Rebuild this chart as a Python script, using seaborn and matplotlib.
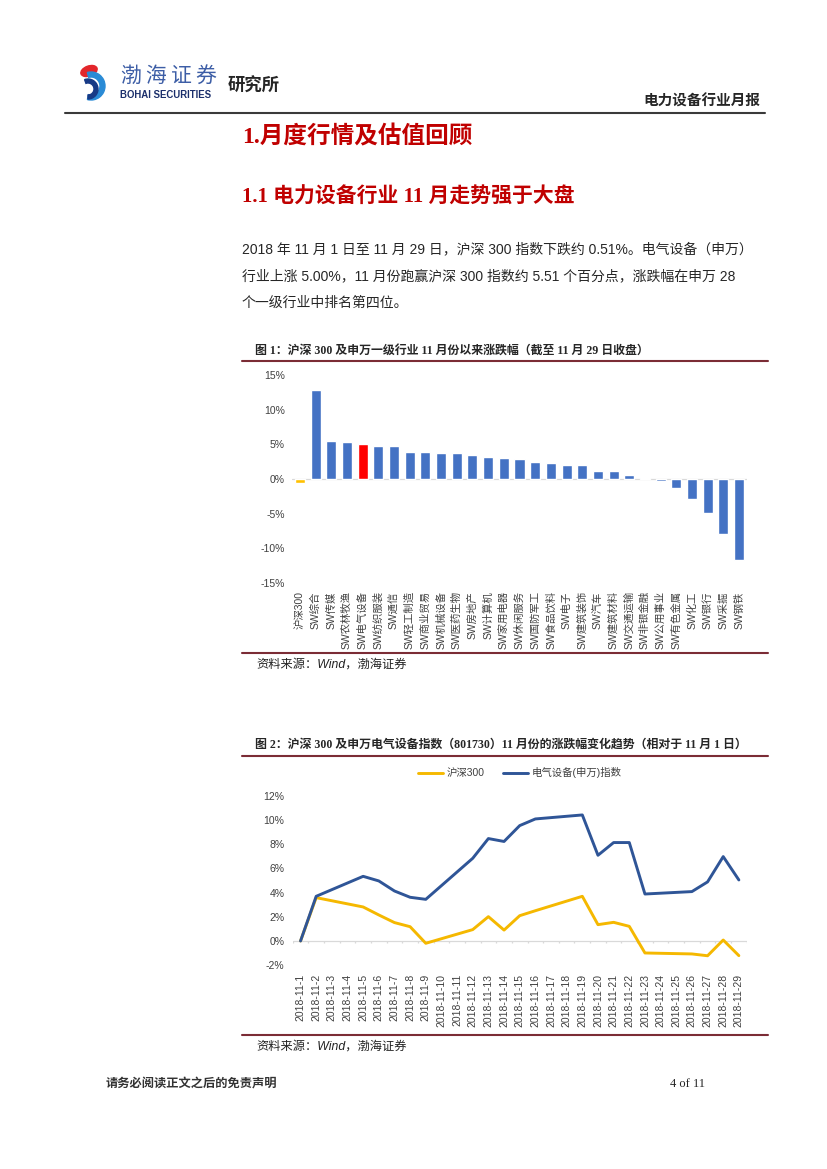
import numpy as np
import pandas as pd
import seaborn as sns
import matplotlib.pyplot as plt
import matplotlib.dates as mdates
from matplotlib.patches import Ellipse, Wedge

# ---- figure 1: 11月涨跌幅 ----
industries = ["沪深300", "SW综合", "SW传媒", "SW农林牧渔", "SW电气设备", "SW纺织服装", "SW通信",
              "SW轻工制造", "SW商业贸易", "SW机械设备", "SW医药生物", "SW房地产", "SW计算机",
              "SW家用电器", "SW休闲服务", "SW国防军工", "SW食品饮料", "SW电子", "SW建筑装饰",
              "SW汽车", "SW建筑材料", "SW交通运输", "SW非银金融", "SW公用事业", "SW有色金属",
              "SW化工", "SW银行", "SW采掘", "SW钢铁"]
change_pct = [-0.51, 12.9, 5.5, 5.3, 5.0, 4.8, 4.75, 3.95, 3.9, 3.8, 3.8, 3.4, 3.2,
              3.1, 2.95, 2.5, 2.35, 2.0, 1.95, 1.1, 1.1, 0.55, 0.08, -0.35, -1.3,
              -2.9, -4.95, -7.95, -11.75]
y1_ticks = [-15, -10, -5, 0, 5, 10, 15]

# ---- figure 2: 涨跌幅变化趋势 ----
trade_dates = ["2018-11-01", "2018-11-02", "2018-11-05", "2018-11-06", "2018-11-07",
               "2018-11-08", "2018-11-09", "2018-11-12", "2018-11-13", "2018-11-14",
               "2018-11-15", "2018-11-16", "2018-11-19", "2018-11-20", "2018-11-21",
               "2018-11-22", "2018-11-23", "2018-11-26", "2018-11-27", "2018-11-28",
               "2018-11-29"]
hs300 = [0, 3.58, 2.81, 2.15, 1.52, 1.18, -0.19, 0.94, 2.01, 0.9, 2.09, 2.5, 3.69,
         1.35, 1.54, 1.21, -0.99, -1.07, -1.22, 0.08, -1.21]
elec = [0, 3.69, 5.34, 4.96, 4.13, 3.61, 3.44, 6.83, 8.46, 8.22, 9.53, 10.08, 10.41,
        7.08, 8.13, 8.13, 3.88, 4.08, 4.88, 6.97, 5.04]
series_names = ["沪深300", "电气设备(申万)指数"]
y2_ticks = [-2, 0, 2, 4, 6, 8, 10, 12]

W, H = 827, 1169
sns.set_style("white")
plt.rcParams['font.family'] = ['Liberation Sans', 'Noto Sans CJK SC', 'DejaVu Sans']
plt.rcParams['axes.unicode_minus'] = False

CJK = ['Liberation Sans', 'Noto Sans CJK SC']
SERIF = ['Liberation Serif', 'Noto Sans CJK SC']
DARKRED = '#7B2C35'
RED = '#C00000'


def box(x0, y0, x1, y1):
    return [x0 / W, 1 - y1 / H, (x1 - x0) / W, (y1 - y0) / H]


fig = plt.figure(figsize=(W / 100, H / 100), dpi=100)
page = fig.add_axes([0, 0, 1, 1])
page.set_xlim(0, W)
page.set_ylim(H, 0)
page.axis('off')

# header / logo
page.add_patch(Ellipse((89, 71), 17, 10, angle=-20, color='#E3262B'))
page.add_patch(Wedge((91, 86), 14, -105, 105, width=5, color='#2A8BD6'))
page.add_patch(Wedge((88, 89), 10, -110, 90, width=4, color='#173A86'))
for i, ch in enumerate("渤海证券"):
    page.text(131 + i * 25, 77, ch, fontsize=15, color='#3D5EA6', family=SERIF,
              ha='center', va='center')
page.text(120, 95, "BOHAI SECURITIES", fontsize=6.9, weight='bold', color='#1B2F6B',
          ha='left', va='center')
page.text(228, 85, "研究所", fontsize=12.5, weight='bold', ha='left', va='center')
page.text(760, 102, "电力设备行业月报", fontsize=10.5, weight='bold', ha='right', va='center')
page.plot([65, 765], [113, 113], color='#3A3A3A', lw=1.5)

# section headings
page.text(242, 137, "1.月度行情及估值回顾", fontsize=17, weight='bold', color=RED,
          family=SERIF, ha='left', va='center')
page.text(242, 198, "1.1 电力设备行业 11 月走势强于大盘", fontsize=15, weight='bold',
          color=RED, family=SERIF, ha='left', va='center')
para = ["2018 年 11 月 1 日至 11 月 29 日，沪深 300 指数下跌约 0.51%。电气设备（申万）",
        "行业上涨 5.00%，11 月份跑赢沪深 300 指数约 5.51 个百分点，涨跌幅在申万 28",
        "个一级行业中排名第四位。"]
for i, line in enumerate(para):
    page.text(242, 249 + i * 27, line, fontsize=10, family=CJK, ha='left', va='center')

# figure captions and rules
page.text(255, 351, "图 1：沪深 300 及申万一级行业 11 月份以来涨跌幅（截至 11 月 29 日收盘）",
          fontsize=8.6, weight='bold', family=SERIF, ha='left', va='center')
page.text(255, 745, "图 2：沪深 300 及申万电气设备指数（801730）11 月份的涨跌幅变化趋势（相对于 11 月 1 日）",
          fontsize=8.6, weight='bold', family=SERIF, ha='left', va='center')
for yy in [361, 653, 756, 1035]:
    page.plot([242, 768], [yy, yy], color=DARKRED, lw=1.5)
for yy in [665, 1047]:
    page.text(256, yy, "资料来源：Wind，渤海证券", fontsize=8.8, style='italic',
              color='#222222', family=CJK, ha='left', va='center')

# footer
page.text(106, 1084, "请务必阅读正文之后的免责声明", fontsize=8.8, weight='bold',
          color='#333333', family=SERIF, ha='left', va='center')
page.text(705, 1084, "4 of 11", fontsize=9, family=SERIF, ha='right', va='center')

# ---- chart 1 ----
ax1 = fig.add_axes(box(292, 375, 747, 583))
ax1.set_facecolor('none')
bar_colors = {name: '#4472C4' for name in industries}
bar_colors["沪深300"] = '#FFC000'
bar_colors["SW电气设备"] = '#FF0000'
df1 = pd.DataFrame({"industry": industries, "pct": change_pct})
sns.barplot(data=df1, x="industry", y="pct", hue="industry", palette=bar_colors,
            legend=False, width=0.64, saturation=1, ax=ax1)
ax1.axhline(0, color='#D9D9D9', lw=0.9, zorder=0)
ax1.set_xlim(-0.5, len(industries) - 0.5)
ax1.set_ylim(y1_ticks[0], y1_ticks[-1])
ax1.set_yticks(y1_ticks)
ax1.set_yticklabels([f"{t}%" for t in y1_ticks], fontsize=7.5, color='#404040')
ax1.set_xticks(range(len(industries)))
ax1.set_xticklabels(industries, rotation=90, fontsize=7.5, color='#404040', family=CJK)
ax1.tick_params(axis='both', length=0)
ax1.tick_params(axis='y', pad=5)
ax1.tick_params(axis='x', pad=6)
ax1.set_xlabel("")
ax1.set_ylabel("")
sns.despine(ax=ax1, left=True, bottom=True)

# ---- chart 2 ----
ax2 = fig.add_axes(box(292.7, 795.7, 746.7, 965.2))
ax2.set_facecolor('none')
n = len(trade_dates)
df2 = pd.DataFrame({"date": pd.to_datetime(trade_dates * 2),
                    "value": hs300 + elec,
                    "series": [series_names[0]] * n + [series_names[1]] * n})
sns.lineplot(data=df2, x="date", y="value", hue="series", hue_order=series_names,
             palette={series_names[0]: '#F5B800', series_names[1]: '#2F5597'},
             linewidth=2.1, ax=ax2)
all_days = pd.date_range("2018-11-01", "2018-11-29")
day_nums = mdates.date2num(all_days)
ax2.set_xlim(day_nums[0] - 0.5, day_nums[-1] + 0.5)
ax2.set_ylim(y2_ticks[0], y2_ticks[-1])
ax2.axhline(0, color='#D9D9D9', lw=0.9, zorder=0)
edges = np.append(day_nums - 0.5, day_nums[-1] + 0.5)
ax2.vlines(edges, -0.18, 0, color='#D9D9D9', lw=0.9, zorder=0)
ax2.set_xticks(day_nums)
ax2.set_xticklabels([f"{d.year}-{d.month}-{d.day}" for d in all_days], rotation=90,
                    fontsize=7.5, color='#404040')
ax2.set_yticks(y2_ticks)
ax2.set_yticklabels([f"{t}%" for t in y2_ticks], fontsize=7.5, color='#404040')
ax2.tick_params(axis='both', length=0)
ax2.tick_params(axis='y', pad=6)
ax2.tick_params(axis='x', pad=6)
ax2.set_xlabel("")
ax2.set_ylabel("")
sns.despine(ax=ax2, left=True, bottom=True)
handles, labels = ax2.get_legend_handles_labels()
ax2.legend(handles, labels, loc='center', bbox_to_anchor=(0.5, 1 + 23 / 169.5), ncol=2,
           frameon=False, fontsize=7.5, handlelength=2.4, columnspacing=1.8,
           handletextpad=0.3, labelcolor='#404040')

fig.savefig("out.png", dpi=100)
